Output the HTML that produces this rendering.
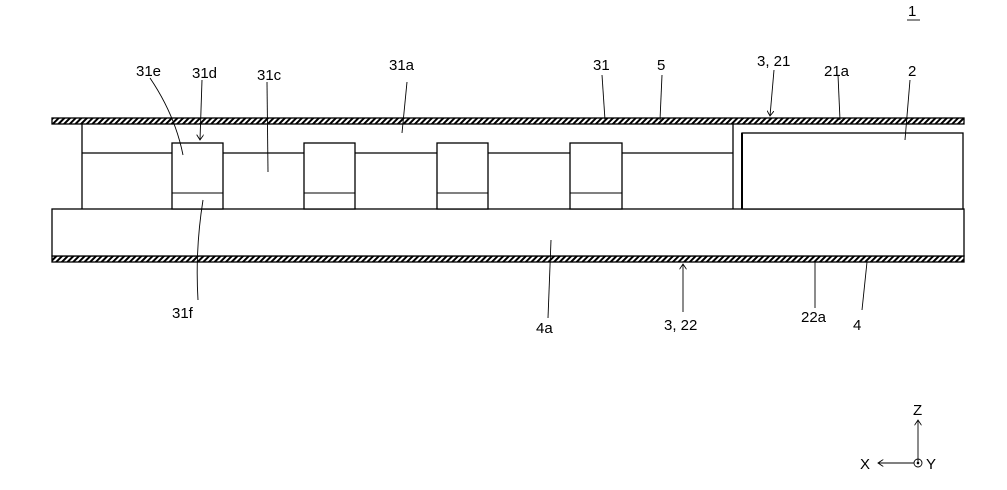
<!DOCTYPE html>
<html><head><style>body{margin:0;background:#fff}svg{display:block}text{font-family:"Liberation Sans",sans-serif;font-size:15px;fill:#000}</style></head>
<body>
<svg width="1007" height="490" viewBox="0 0 1007 490">
<defs>
<pattern id="h" width="4" height="4" patternUnits="userSpaceOnUse" patternTransform="rotate(45)">
<rect width="4" height="4" fill="#fff"/><rect width="2" height="4" fill="#000"/></pattern>
<marker id="a" markerWidth="8" markerHeight="8" refX="6" refY="4" orient="auto"><path d="M0,0 L6,4 L0,8" fill="none" stroke="#000" stroke-width="1"/></marker>
</defs>
<g stroke="#000" fill="none" stroke-width="1.3">
<rect x="52" y="118" width="912" height="6" fill="url(#h)"/>
<rect x="52" y="256" width="912" height="6" fill="url(#h)"/>
<rect x="52" y="209" width="912" height="47" fill="#fff"/>
<line x1="82" y1="124" x2="82" y2="209"/>
<line x1="733" y1="124" x2="733" y2="209"/>
<line x1="82" y1="153" x2="733" y2="153"/>
<rect x="742" y="133" width="221" height="76" fill="#fff"/>
<line x1="742" y1="133" x2="742" y2="209" stroke-width="2"/>
<g fill="#fff">
<rect x="172" y="143" width="51" height="66"/><rect x="304" y="143" width="51" height="66"/>
<rect x="437" y="143" width="51" height="66"/><rect x="570" y="143" width="52" height="66"/>
</g>
<g stroke-width="1">
<line x1="172" y1="193" x2="223" y2="193"/><line x1="304" y1="193" x2="355" y2="193"/>
<line x1="437" y1="193" x2="488" y2="193"/><line x1="570" y1="193" x2="622" y2="193"/>
</g>
<g stroke-width="0.9">
<path d="M150,78 Q175,115 183,155"/>
<line x1="202" y1="80" x2="200" y2="140" marker-end="url(#a)"/>
<line x1="267" y1="82" x2="268" y2="172"/>
<line x1="407" y1="82" x2="402" y2="133"/>
<line x1="602" y1="75" x2="605" y2="120"/>
<line x1="662" y1="75" x2="660" y2="120"/>
<line x1="774" y1="70" x2="770" y2="116" marker-end="url(#a)"/>
<line x1="838" y1="75" x2="840" y2="120"/>
<line x1="910" y1="80" x2="905" y2="140"/>
<line x1="548" y1="318" x2="551" y2="240"/>
<line x1="683" y1="312" x2="683" y2="264" marker-end="url(#a)"/>
<line x1="815" y1="308" x2="815" y2="262"/>
<line x1="862" y1="310" x2="867" y2="262"/>
<path d="M198,300 Q195,250 203,200"/>
<line x1="907" y1="20" x2="920" y2="20"/>
<line x1="918" y1="463" x2="918" y2="420" marker-end="url(#a)"/>
<line x1="914" y1="463" x2="878" y2="463" marker-end="url(#a)"/>
<circle cx="918" cy="463" r="4"/>
</g>
</g>
<circle cx="918" cy="463" r="1.3" fill="#000"/>
<text x="136" y="76">31e</text><text x="192" y="78">31d</text><text x="257" y="80">31c</text>
<text x="389" y="70">31a</text><text x="593" y="70">31</text><text x="657" y="70">5</text>
<text x="757" y="66">3, 21</text><text x="824" y="76">21a</text><text x="908" y="76">2</text>
<text x="908" y="16">1</text>
<text x="172" y="318">31f</text><text x="536" y="333">4a</text><text x="664" y="330">3, 22</text>
<text x="801" y="322">22a</text><text x="853" y="330">4</text>
<text x="913" y="415">Z</text><text x="860" y="469">X</text><text x="926" y="469">Y</text>
</svg>
</body></html>
